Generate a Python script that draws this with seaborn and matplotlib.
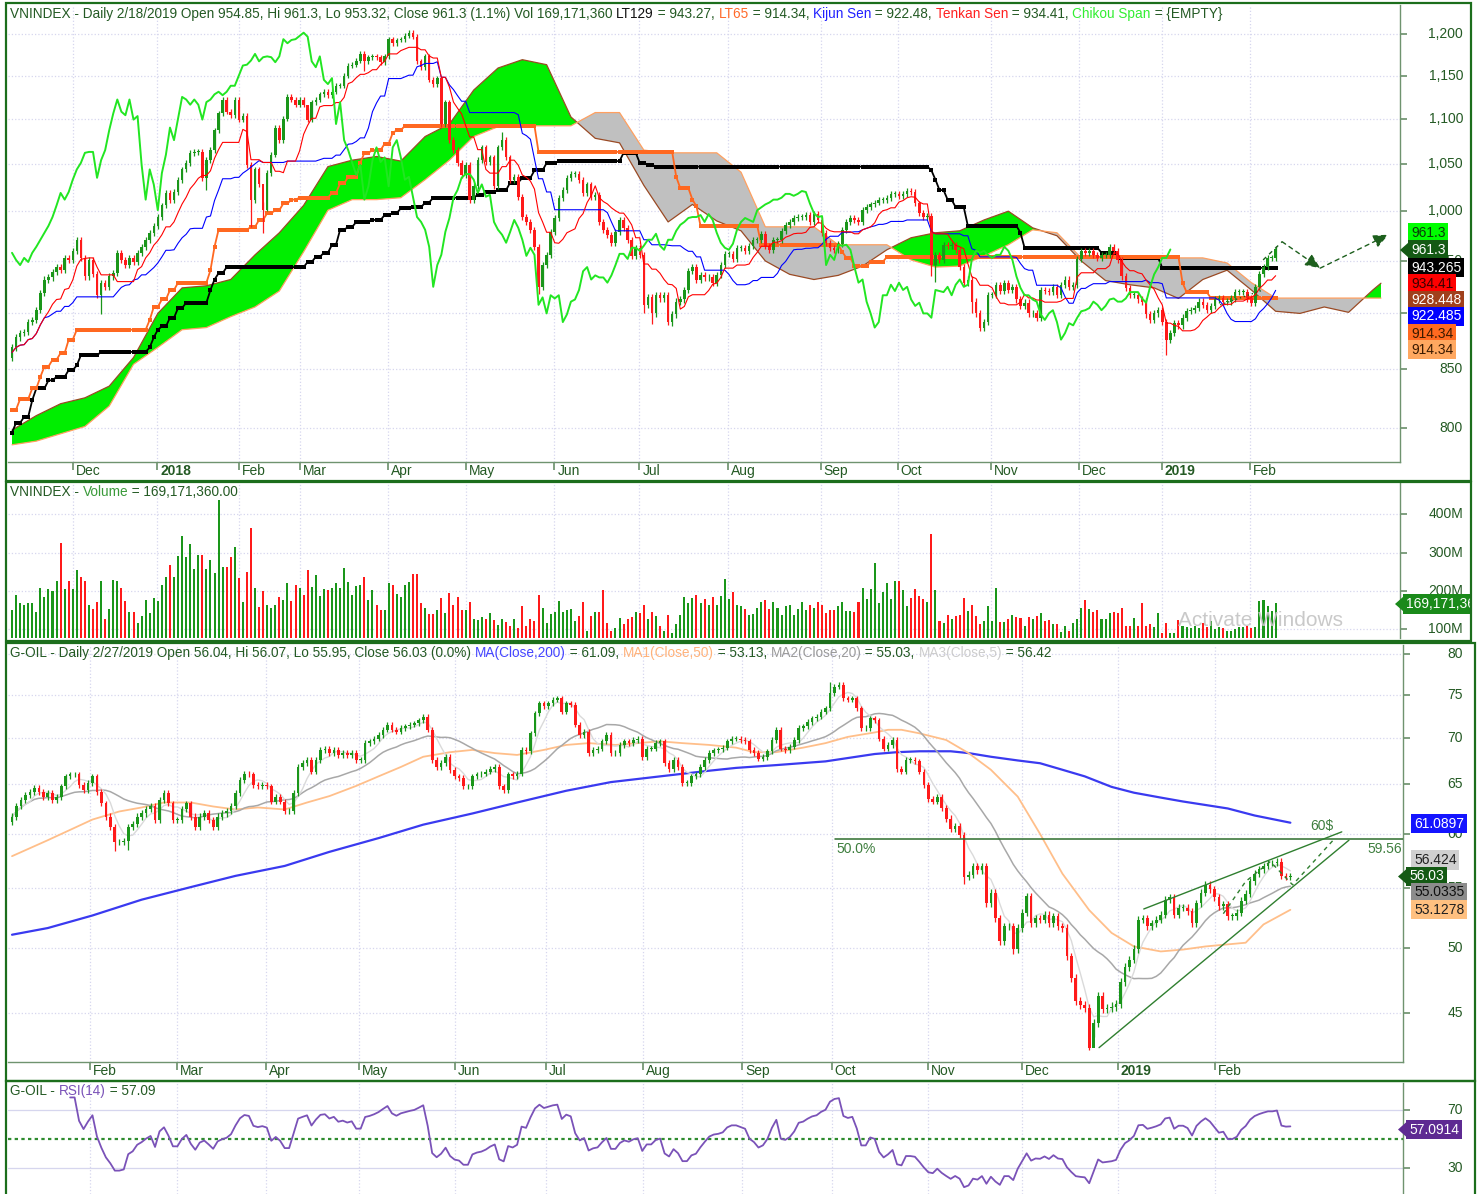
import numpy as np
import pandas as pd
import seaborn as sns
import matplotlib
matplotlib.use("Agg")
import matplotlib.pyplot as plt
import matplotlib.transforms as mtransforms
from matplotlib.patches import Rectangle, Polygon
from matplotlib.ticker import FixedLocator, NullLocator

# -----------------------------------------------------------------------------
# DATA - VNINDEX daily (Nov 2017 .. 2/18/2019)
# -----------------------------------------------------------------------------
vn_close = [
    869, 878, 882, 883, 892, 894, 903, 919, 932, 934,
    939, 944, 941, 953, 951, 960, 971, 953, 935, 951,
    937, 917, 929, 925, 935, 938, 958, 951, 946, 953,
    949, 958, 964, 971, 978, 985, 994, 1006, 1019, 1012,
    1020, 1033, 1044, 1051, 1062, 1063, 1063, 1035, 1054, 1065,
    1087, 1106, 1122, 1108, 1104, 1122, 1099, 1103, 1049, 1012,
    1044, 1028, 1001, 1040, 1060, 1090, 1076, 1100, 1125, 1122,
    1116, 1122, 1116, 1099, 1119, 1122, 1128, 1131, 1127, 1131,
    1138, 1138, 1150, 1162, 1163, 1168, 1176, 1167, 1172, 1173,
    1172, 1166, 1173, 1194, 1189, 1193, 1194, 1198, 1202, 1197,
    1167, 1160, 1173, 1145, 1140, 1147, 1094, 1119, 1076, 1065,
    1051, 1038, 1049, 1012, 1026, 1054, 1068, 1052, 1057, 1026,
    1068, 1076, 1057, 1033, 1036, 1015, 994, 989, 981, 964,
    925, 946, 956, 979, 993, 1014, 1022, 1035, 1039, 1039,
    1033, 1019, 1028, 1015, 1017, 989, 981, 976, 968, 979,
    991, 983, 971, 955, 963, 956, 908, 915, 900, 917,
    914, 917, 892, 899, 911, 913, 922, 940, 944, 932,
    936, 934, 934, 929, 936, 946, 957, 957, 952, 963,
    963, 960, 965, 971, 971, 977, 965, 961, 971, 971,
    980, 986, 989, 993, 994, 994, 996, 989, 997, 991,
    978, 968, 963, 961, 967, 981, 989, 993, 991, 989,
    1001, 1004, 1007, 1009, 1012, 1012, 1014, 1018, 1018, 1016,
    1018, 1021, 1020, 1008, 998, 994, 995, 946, 956, 951,
    966, 965, 966, 961, 944, 929, 932, 911, 900, 887,
    892, 917, 917, 927, 921, 929, 922, 925, 913, 907,
    910, 900, 900, 896, 922, 921, 920, 925, 917, 927,
    932, 925, 927, 952, 960, 958, 960, 956, 953, 956,
    956, 964, 960, 951, 935, 924, 917, 917, 913, 911,
    899, 894, 900, 903, 892, 876, 882, 891, 889, 896,
    902, 903, 905, 911, 908, 903, 907, 913, 914, 911,
    911, 914, 920, 920, 920, 914, 910, 925, 937, 944,
    953, 953, 961.3,
]
vn_first_open = 860          # opens are taken as the previous close
vn_wick = 3                  # typical shadow length, points
vn_long_wicks = {22: (None, 899), 48: (None, 1022), 59: (None, 984), 62: (1010, 978),
                 63: (None, 1000), 73: (1112, None), 87: (None, 1155), 121: (1085, None),
                 130: (None, 918), 156: (None, 900), 158: (None, 890), 163: (None, 888),
                 227: (None, 935), 228: (None, 930), 237: (None, 900), 285: (None, 862)}

# volume in millions of shares
vn_volume = [
    152, 189, 170, 165, 170, 168, 146, 209, 184, 206, 200, 226, 326, 206, 226, 206, 255, 237, 226, 163,
    154, 171, 226, 126, 154, 230, 226, 209, 174, 145, 145, 117, 135, 178, 143, 181, 174, 215, 237, 269,
    237, 291, 344, 289, 324, 258, 294, 293, 257, 282, 246, 438, 263, 263, 289, 315, 235, 171, 250, 365,
    209, 159, 200, 163, 157, 163, 185, 178, 222, 174, 215, 209, 189, 255, 211, 241, 187, 206, 203, 209,
    222, 209, 261, 224, 189, 213, 217, 237, 178, 203, 165, 152, 152, 220, 215, 193, 185, 217, 224, 245,
    245, 170, 157, 141, 141, 152, 183, 143, 194, 165, 185, 152, 152, 171, 126, 124, 132, 126, 143, 124,
    111, 126, 119, 109, 126, 103, 161, 109, 126, 122, 191, 157, 117, 139, 145, 174, 145, 152, 154, 122,
    135, 171, 96, 135, 145, 145, 204, 117, 96, 104, 130, 113, 126, 132, 145, 143, 163, 128, 145, 135,
    109, 96, 137, 91, 113, 137, 185, 168, 183, 191, 170, 180, 163, 185, 163, 187, 232, 180, 197, 165,
    160, 154, 137, 141, 157, 171, 177, 154, 171, 157, 137, 161, 165, 137, 154, 171, 152, 163, 157, 171,
    163, 143, 152, 152, 161, 171, 148, 148, 145, 171, 209, 180, 206, 274, 168, 197, 220, 180, 226, 226,
    203, 161, 183, 206, 187, 180, 171, 348, 203, 122, 116, 137, 126, 135, 137, 183, 148, 163, 135, 113,
    122, 161, 123, 209, 119, 119, 126, 137, 133, 130, 109, 132, 128, 135, 143, 122, 124, 115, 113, 93,
    109, 97, 117, 128, 157, 178, 154, 145, 152, 128, 126, 143, 145, 143, 157, 110, 109, 130, 109, 170,
    109, 113, 107, 143, 91, 117, 91, 91, 124, 109, 106, 104, 109, 104, 117, 106, 122, 100, 107, 104,
    96, 96, 102, 107, 107, 110, 104, 107, 174, 178, 161, 148, 169.17,
]

# Ichimoku cloud edges (already shifted 26 bars ahead), sampled from the chart
cloud_idx = list(range(0, 337, 6)) + [338]
senkou_a = [798, 810, 820, 825, 835, 860, 900, 924, 926, 932, 956, 978, 1006, 1047, 1054, 1058,
            1053, 1080, 1094, 1133, 1159, 1169, 1163, 1102, 1078, 1073, 1027, 989, 1007, 990, 980,
            950, 937, 932, 936, 945, 961, 973, 978, 980, 991, 1000, 983, 975, 950, 931, 927, 924,
            914, 932, 941, 922, 902, 900, 906, 901, 922, 928.448]
senkou_b = [786, 789, 795, 801, 818, 854, 869, 885, 887, 897, 906, 921, 959, 1001, 1012, 1012,
            1014, 1033, 1054, 1080, 1091, 1092, 1092, 1092, 1107, 1107, 1065, 1062, 1062, 1062, 1041,
            984, 984, 984, 966, 966, 966, 951, 944, 945, 955, 966, 981, 978, 953, 953, 953, 953,
            953, 953, 948, 929, 914.34, 914.34, 914.34, 914.34, 914.34, 914.34]

# long-term midpoint lines as (level, number of bars)
lt129_runs = [(796, 1), (804, 2), (809, 2), (823, 1), (833, 3), (840, 2), (843, 3), (849, 2), (853, 1),
              (862, 5), (865, 12), (869, 1), (878, 1), (885, 1), (888, 2), (896, 2), (905, 2), (910, 6),
              (922, 1), (932, 1), (938, 2), (944, 20), (949, 2), (954, 2), (958, 2), (966, 2), (981, 2),
              (984, 2), (989, 4), (991, 3), (996, 2), (998, 2), (1003, 3), (1004, 3), (1009, 2),
              (1014, 11), (1017, 2), (1020, 3), (1022, 3), (1030, 3), (1035, 3), (1043, 3), (1051, 3),
              (1053, 16), (1062, 4), (1051, 2), (1049, 2), (1047, 68), (1043, 1), (1033, 1), (1022, 2),
              (1012, 2), (1004, 3), (985, 13), (978, 1), (963, 19), (958, 4), (953, 11), (943.27, 29)]
lt65_runs = [(815, 2), (824, 3), (833, 2), (843, 1), (852, 2), (858, 2), (864, 2), (876, 2), (885, 18),
             (894, 1), (906, 2), (913, 2), (922, 2), (929, 8), (941, 1), (964, 1), (981, 8), (984, 2),
             (991, 2), (998, 2), (1001, 2), (1008, 2), (1012, 2), (1014, 8), (1019, 2), (1029, 2),
             (1036, 3), (1051, 1), (1062, 2), (1065, 3), (1072, 2), (1084, 1), (1087, 2), (1092, 33),
             (1063, 34), (1036, 1), (1024, 3), (1012, 1), (1005, 1), (985, 15), (966, 20), (959, 1),
             (953, 2), (945, 4), (949, 4), (954, 73), (929, 1), (920, 6), (914.34, 17)]

vn_month_pos = [15.1, 35.9, 56.1, 71.1, 92.9, 112.1, 133.9, 154.9, 176.7, 199.7, 218.7, 241.7,
                263.5, 283.9, 305.7]
vn_month_lab = ["Dec", "2018", "Feb", "Mar", "Apr", "May", "Jun", "Jul", "Aug", "Sep", "Oct",
                "Nov", "Dec", "2019", "Feb"]
vn_price_ticks = [800, 850, 950, 1000, 1050, 1100, 1150, 1200]   # 900 sits under the tags
vn_vol_ticks = [100, 200, 300, 400]
# hand-drawn projection on the VNINDEX chart (bar index, price)
vn_projection = [(308.9, 951), (313.6, 969), (323.0, 943), (339.8, 976)]
vn_trend_dots = [(298.3, 908), (308.9, 922)]

# -----------------------------------------------------------------------------
# DATA - G-OIL daily (Jan 5 2018 .. 2/27/2019)
# -----------------------------------------------------------------------------
oil_close = [
    61.7, 62.7, 63.4, 63.9, 64.2, 64.6, 64.2, 63.7, 64.05, 63.4,
    63.7, 64.75, 65.8, 66.0, 66.0, 64.9, 64.4, 65.1, 65.8, 64.2,
    63.0, 61.7, 60.7, 59.2, 59.2, 59.3, 60.7, 61.0, 61.7, 62.0,
    62.4, 62.7, 61.4, 63.4, 64.05, 63.0, 61.4, 61.4, 62.4, 63.0,
    61.7, 60.7, 61.7, 62.0, 61.4, 60.7, 61.7, 62.0, 62.2, 62.7,
    64.05, 65.4, 66.1, 66.0, 64.9, 64.75, 64.9, 64.75, 63.2, 63.7,
    63.2, 62.2, 62.2, 64.05, 66.8, 67.2, 67.55, 66.3, 67.55, 68.65,
    68.8, 68.3, 68.65, 68.1, 68.3, 68.1, 68.3, 67.55, 67.55, 69.4,
    69.6, 69.9, 70.3, 70.9, 71.5, 70.9, 70.7, 71.1, 71.3, 71.5,
    71.65, 72.0, 72.4, 70.9, 67.55, 66.8, 67.2, 67.9, 66.5, 65.8,
    65.6, 64.75, 64.75, 65.8, 66.0, 66.1, 66.3, 66.6, 66.8, 64.75,
    64.4, 66.0, 65.8, 66.1, 68.65, 68.5, 70.5, 72.8, 74.0, 73.6,
    74.0, 74.4, 74.6, 73.0, 74.0, 73.8, 71.5, 70.3, 70.7, 68.3,
    68.65, 68.8, 69.6, 70.3, 68.3, 68.3, 69.2, 69.6, 69.4, 69.75,
    69.9, 67.9, 68.8, 68.8, 69.4, 69.6, 67.2, 66.6, 67.55, 66.8,
    65.1, 65.1, 65.8, 66.0, 66.8, 67.55, 68.3, 68.6, 68.7, 68.9,
    69.6, 69.9, 69.9, 69.75, 69.6, 68.65, 68.3, 67.7, 67.9, 68.5,
    69.75, 70.9, 68.8, 68.65, 69.0, 69.75, 71.1, 71.3, 71.8, 72.2,
    72.4, 73.0, 73.4, 75.2, 75.96, 76.2, 74.6, 74.4, 74.6, 73.4,
    71.1, 71.1, 72.2, 72.0, 69.9, 68.8, 69.2, 69.75, 66.6, 66.3,
    67.55, 67.55, 67.4, 66.3, 64.9, 63.5, 63.2, 63.7, 62.5, 61.5,
    60.5, 60.8, 59.9, 56.0, 56.2, 57.0, 56.6, 57.0, 53.7, 54.6,
    52.4, 50.5, 51.75, 51.75, 49.9, 51.6, 52.9, 54.3, 52.0, 52.4,
    52.3, 52.7, 52.0, 52.6, 51.75, 51.6, 49.3, 47.6, 45.9, 45.6,
    45.4, 42.6, 44.3, 46.3, 45.3, 45.4, 45.5, 45.7, 47.3, 48.5,
    49.06, 49.9, 52.3, 52.4, 51.75, 52.0, 52.3, 52.7, 54.0, 54.2,
    52.7, 53.3, 53.3, 53.0, 52.0, 53.7, 54.6, 55.3, 54.9, 54.2,
    53.45, 53.6, 52.6, 52.6, 52.9, 53.9, 54.5, 55.6, 56.3, 56.7,
    57.0, 57.25, 57.25, 57.4, 56.1, 56.0, 56.03,
]
oil_first_open = 61.2
oil_wick = 0.3
oil_long_wicks = {23: (None, 58.4), 26: (None, 58.5), 213: (None, 55.4), 224: (None, 49.5),
                  241: (None, 42.45), 242: (None, 43.3), 183: (76.5, None)}

oil_ma50_idx = [0, 8, 18, 24, 29, 34, 40, 45, 50, 55, 61, 66, 71, 77, 82, 87, 92, 98, 103, 108,
                113, 119, 124, 129, 135, 140, 145, 150, 156, 162, 166, 171, 177, 182, 187, 193, 196,
                199, 203, 209, 214, 219, 225, 230, 235, 241, 246, 251, 257, 262, 267, 273, 276, 280, 286]
oil_ma50 = [57.9, 59.4, 61.4, 62.2, 62.6, 63.1, 63.1, 62.7, 62.4, 62.6, 62.4, 63.1, 63.75, 64.8, 65.8,
            66.8, 67.9, 68.4, 68.65, 68.3, 68.1, 68.65, 69.2, 69.4, 69.2, 69.4, 69.6, 69.4, 69.2, 68.9,
            68.4, 68.4, 68.9, 69.4, 70.1, 70.6, 70.9, 70.9, 70.5, 69.75, 68.3, 66.5, 63.7, 60.0, 56.3,
            53.1, 51.2, 50.1, 49.7, 49.85, 50.1, 50.3, 50.4, 51.9, 53.13]
oil_ma200_idx = [0, 8, 18, 29, 40, 50, 61, 71, 82, 92, 103, 113, 124, 134, 145, 156, 162, 171, 182,
                 193, 198, 203, 210, 214, 219, 225, 230, 235, 240, 246, 251, 257, 262, 267, 272, 278, 286]
oil_ma200 = [51.05, 51.6, 52.65, 54.0, 55.1, 56.1, 57.0, 58.3, 59.6, 60.9, 62.0, 63.1, 64.3, 65.2,
             65.8, 66.4, 66.7, 67.0, 67.4, 68.2, 68.4, 68.5, 68.5, 68.3, 67.9, 67.5, 67.2, 66.5, 65.8,
             64.7, 64.1, 63.6, 63.2, 62.85, 62.5, 61.8, 61.09]

oil_month_pos = [17.4, 36.9, 56.9, 77.6, 99.1, 119.5, 141.2, 163.3, 183.4, 204.9, 225.9, 247.4, 269.1]
oil_month_lab = ["Feb", "Mar", "Apr", "May", "Jun", "Jul", "Aug", "Sep", "Oct", "Nov", "Dec",
                 "2019", "Feb"]
oil_price_ticks = [45, 50, 55, 60, 65, 70, 75, 80]
rsi_ticks = [30, 70]
# drawn wedge / target on the oil chart (bar index, price)
oil_fib_level = 59.56
oil_fib_start = 184.1
oil_wedge_upper = [(253.2, 53.2), (297.5, 60.2)]
oil_wedge_lower = [(243.2, 42.6), (299.1, 59.4)]
oil_dash_path = [(271.0, 52.8), (276.0, 55.6), (281.5, 57.4), (286.5, 55.3), (296.0, 59.6)]

# -----------------------------------------------------------------------------
# FIGURE
# -----------------------------------------------------------------------------
W, H = 1479, 1194
sns.set_theme(style="white")
plt.rcParams["font.family"] = ["Liberation Sans", "DejaVu Sans"]
plt.rcParams["font.size"] = 10

TXT = "#245a24"
GRID = "#d6d6ee"
AXC = "#6f936f"
FRAME = "#1c6e1c"
UP, DOWN = "#1a961a", "#ff1a1a"
FS = 10        # tick labels, tags, month names
FS_HEAD = 9.8  # panel titles

fig = plt.figure(figsize=(W / 100, H / 100), dpi=100)


def rect(x0, y0, x1, y1):
    return [x0 / W, 1 - y1 / H, (x1 - x0) / W, (y1 - y0) / H]


def fy(y_px):
    return 1 - y_px / H


def ohlc(close, first_open, wick, long_wicks):
    c = np.asarray(close, float)
    o = np.r_[first_open, c[:-1]]
    h = np.maximum(o, c) + wick
    l = np.minimum(o, c) - wick
    for i, (hi, lo) in long_wicks.items():
        if hi is not None:
            h[i] = hi
        if lo is not None:
            l[i] = lo
    return o, h, l, c


def candles(ax, o, h, l, c, width, min_body):
    x = np.arange(len(c))
    col = np.where(c >= o, UP, DOWN)
    ax.vlines(x, l, h, colors=col, lw=0.9, zorder=3)
    body = np.maximum(np.abs(c - o), min_body)
    ax.bar(x, body, bottom=np.minimum(o, c), width=width, color=col, linewidth=0, zorder=3)
    return col


def base_axes(box, xlim, ylim, log=False):
    ax = fig.add_axes(rect(*box))
    ax.set_facecolor("white")
    if log:
        ax.set_yscale("log")
    ax.set_xlim(*xlim)
    ax.set_ylim(*ylim)
    for s in ("left", "top"):
        ax.spines[s].set_visible(False)
    for s in ("right", "bottom"):
        ax.spines[s].set_color(AXC)
        ax.spines[s].set_linewidth(1.0)
    ax.yaxis.set_minor_locator(NullLocator())
    ax.xaxis.set_minor_locator(NullLocator())
    ax.tick_params(axis="y", which="both", left=False, right=True, labelleft=False,
                   labelright=False, direction="out", length=5, color=AXC)
    ax.tick_params(axis="x", which="both", bottom=True, top=False, labelbottom=False,
                   direction="out", length=6, color=AXC)
    return ax


def y_labels(ax, ticks, fmt, grid_ticks=None, x_px=1463):
    ax.yaxis.set_major_locator(FixedLocator(grid_ticks or ticks))
    tr = mtransforms.blended_transform_factory(fig.transFigure, ax.transData)
    for v in ticks:
        ax.text(x_px / W, v, fmt(v), transform=tr, ha="right", va="center", fontsize=FS,
                color=TXT, zorder=5)


def x_months(ax, pos, labels, y_px=None):
    ax.xaxis.set_major_locator(FixedLocator(pos))
    ax.grid(True, which="major", color=GRID, ls=":", lw=0.9)
    if y_px is None:
        ax.tick_params(axis="x", length=0)
        return
    tr = mtransforms.blended_transform_factory(ax.transData, fig.transFigure)
    tr = tr + mtransforms.ScaledTranslation(3 / 100, 0, fig.dpi_scale_trans)
    for p, lab in zip(pos, labels):
        ax.text(p, fy(y_px), lab, transform=tr, ha="left", va="center", fontsize=FS,
                color=TXT, fontweight="bold" if lab.isdigit() else "normal")


def header(ax, x_px, y_px, parts):
    # pieces are chained one after another; drawn by the panel's own axes so
    # that the next panel's background does not hide them
    t = ax.text(x_px / W, fy(y_px), parts[0][0], color=parts[0][1], fontsize=FS_HEAD,
                ha="left", va="center", transform=fig.transFigure, zorder=6)
    for s, col in parts[1:]:
        t = ax.annotate(s, xy=(1, 0), xycoords=t, va="bottom", ha="left",
                        color=col, fontsize=FS_HEAD, annotation_clip=False, zorder=6)


def tag(x_px, y_px, text, fc, tc, arrow=False, clip_right=None):
    t = fig.text((x_px + 3) / W, fy(y_px), text, ha="left", va="center", fontsize=FS, color=tc,
                 bbox=dict(boxstyle="square,pad=0.2", fc=fc, ec="none"), zorder=20)
    if clip_right is not None:
        clip = mtransforms.TransformedBbox(
            mtransforms.Bbox.from_extents(x_px / W - 0.01, 0, clip_right / W, 1), fig.transFigure)
        t.set_clip_box(clip)
        t.set_clip_on(True)
    if arrow:
        fig.add_artist(Polygon([[(x_px - 8) / W, fy(y_px)], [(x_px + 0.5) / W, fy(y_px - 7.5)],
                                [(x_px + 0.5) / W, fy(y_px + 7.5)]], closed=True,
                               transform=fig.transFigure, fc=fc, ec="none", zorder=20))


# ---------------------------------------------------------------- panel 1
vn_o, vn_h, vn_l, vn_c = ohlc(vn_close, vn_first_open, vn_wick, vn_long_wicks)
n_vn = len(vn_c)
ax1 = base_axes((8, 5, 1400, 462), (-0.99, 342.7), (772.2, 1236.8), log=True)
y_labels(ax1, vn_price_ticks, lambda v: f"{v:,}",
         grid_ticks=[800, 850, 900, 950, 1000, 1050, 1100, 1150, 1200])
x_months(ax1, vn_month_pos, vn_month_lab, y_px=471)

ca = np.array(senkou_a, float)
cb = np.array(senkou_b, float)
ax1.fill_between(cloud_idx, ca, cb, where=ca >= cb, interpolate=True, color="#00ee00",
                 linewidth=0, zorder=1)
ax1.fill_between(cloud_idx, ca, cb, where=ca < cb, interpolate=True, color="#c0c0c0",
                 linewidth=0, zorder=1)
sns.lineplot(x=cloud_idx, y=ca, ax=ax1, color="#9a4a24", lw=0.9, zorder=2)
sns.lineplot(x=cloud_idx, y=cb, ax=ax1, color="#ffa060", lw=0.9, zorder=2)

lt129 = np.repeat([v for v, k in lt129_runs], [k for v, k in lt129_runs])
lt65 = np.repeat([v for v, k in lt65_runs], [k for v, k in lt65_runs])
idx_vn = np.arange(n_vn)
sns.lineplot(x=idx_vn, y=lt129, ax=ax1, color="black", lw=1.3, marker="s", markersize=2.6,
             markeredgewidth=0, zorder=2.5)
sns.lineplot(x=idx_vn, y=lt65, ax=ax1, color="#ff6820", lw=1.3, marker="s", markersize=2.6,
             markeredgewidth=0, zorder=2.5)

vn_colors = candles(ax1, vn_o, vn_h, vn_l, vn_c, 0.62, 0.8)

hs, ls_ = pd.Series(vn_h), pd.Series(vn_l)
tenkan = (hs.rolling(9, min_periods=1).max() + ls_.rolling(9, min_periods=1).min()) / 2
kijun = (hs.rolling(26, min_periods=1).max() + ls_.rolling(26, min_periods=1).min()) / 2
sns.lineplot(x=idx_vn, y=kijun.values, ax=ax1, color="#0000ff", lw=0.8, zorder=4)
sns.lineplot(x=idx_vn, y=tenkan.values, ax=ax1, color="#ff0000", lw=0.8, zorder=4)
sns.lineplot(x=idx_vn[26:] - 26, y=vn_c[26:], ax=ax1, color="#22e622", lw=1.4, zorder=4)

px, py = zip(*vn_projection)
ax1.plot(px[:2], py[:2], color="#1d5f1d", lw=1.0, ls=(0, (3, 3)), zorder=5)
for a, b in ((1, 2), (2, 3)):
    ax1.annotate("", xy=(px[b], py[b]), xytext=(px[a], py[a]),
                 arrowprops=dict(arrowstyle="-|>,head_length=0.9,head_width=0.4",
                                 color="#1d5f1d", lw=1.0, ls=(0, (3, 3)), shrinkA=0, shrinkB=0))
tx, ty = zip(*vn_trend_dots)
ax1.plot(tx, ty, color="#1d5f1d", lw=1.0, ls=(0, (1, 2)), zorder=5)

# ---------------------------------------------------------------- panel 2
ax2 = base_axes((8, 483, 1400, 637.5), (-0.99, 342.7), (79, 482))
y_labels(ax2, vn_vol_ticks, lambda v: f"{v}M")
x_months(ax2, vn_month_pos, vn_month_lab)
ax2.grid(True, axis="y", color=GRID, ls=":", lw=0.9)
ax2.bar(idx_vn, vn_volume, width=0.5, color=vn_colors, linewidth=0, zorder=3)
ax2.spines["bottom"].set_visible(False)
ax2.text(1178 / W, fy(621), "Activate Windows", transform=fig.transFigure, fontsize=15,
         color="#c4c4c4", alpha=0.9, ha="left", va="center", zorder=6)

# ---------------------------------------------------------------- panel 3
oil_o, oil_h, oil_l, oil_c = ohlc(oil_close, oil_first_open, oil_wick, oil_long_wicks)
n_oil = len(oil_c)
idx_oil = np.arange(n_oil)
ax3 = base_axes((8, 645, 1403, 1062), (-0.9, 311.2), (41.63, 81.22), log=True)
y_labels(ax3, oil_price_ticks, lambda v: f"{v}")
x_months(ax3, oil_month_pos, oil_month_lab, y_px=1071)

cs = pd.Series(oil_c)
ma5 = cs.rolling(5, min_periods=1).mean()
ma20 = cs.rolling(20, min_periods=1).mean()
sns.lineplot(x=oil_ma200_idx, y=oil_ma200, ax=ax3, color="#3a3af0", lw=1.6, zorder=2)
sns.lineplot(x=oil_ma50_idx, y=oil_ma50, ax=ax3, color="#ffbf8a", lw=1.3, zorder=2)
sns.lineplot(x=idx_oil, y=ma20.values, ax=ax3, color="#a8a8a8", lw=1.1, zorder=2)
sns.lineplot(x=idx_oil, y=ma5.values, ax=ax3, color="#dadada", lw=1.0, zorder=2)
candles(ax3, oil_o, oil_h, oil_l, oil_c, 0.6, 0.06)

LC = "#2f7f2f"
ax3.plot([oil_fib_start, 311.2], [oil_fib_level, oil_fib_level], color="#2d6d2d", lw=1.1, zorder=5)
ax3.text(oil_fib_start + 0.3, oil_fib_level * 0.995, "50.0%", color="#3e7e3e", fontsize=FS,
         ha="left", va="top", zorder=5)
ax3.text(311.0, oil_fib_level * 0.995, "59.56", color="#3e7e3e", fontsize=FS, ha="right",
         va="top", zorder=5)
for seg in (oil_wedge_upper, oil_wedge_lower):
    sx, sy = zip(*seg)
    ax3.plot(sx, sy, color=LC, lw=1.0, zorder=5)
dx, dy = zip(*oil_dash_path)
ax3.plot(dx, dy, color=LC, lw=1.0, ls=(0, (3, 3)), zorder=5)
ax3.text(290.4, 60.05, "60$", color="#3e7e3e", fontsize=FS, ha="left", va="bottom", zorder=5)

# ---------------------------------------------------------------- panel 4
delta = cs.diff().fillna(0)
gain = delta.clip(lower=0).ewm(alpha=1 / 14, adjust=False, min_periods=14).mean()
loss = (-delta).clip(lower=0).ewm(alpha=1 / 14, adjust=False, min_periods=14).mean()
rsi = 100 - 100 / (1 + gain / loss)
ax4 = base_axes((8, 1083, 1403, 1194), (-0.9, 311.2), (12.0, 88.9))
y_labels(ax4, rsi_ticks, lambda v: f"{v}")
x_months(ax4, oil_month_pos, oil_month_lab)
ax4.grid(True, axis="y", color=GRID, ls="-", lw=0.9)
ax4.spines["bottom"].set_visible(False)
ax4.axhline(50, color="#2e8b2e", lw=1.6, ls=(0, (1.5, 1.5)), zorder=2)
sns.lineplot(x=idx_oil, y=rsi.values, ax=ax4, color="#7a52b8", lw=1.3, zorder=3)

# ---------------------------------------------------------------- frames
for x0, y0, x1, y1 in ((6, 3, 1471, 481), (6, 482, 1471, 641), (6, 643, 1475, 1081),
                       (6, 1081, 1475, 1200)):
    fig.add_artist(Rectangle((x0 / W, fy(y1)), (x1 - x0) / W, (y1 - y0) / H, fill=False,
                             ec=FRAME, lw=1.6, transform=fig.transFigure, zorder=30))

# ---------------------------------------------------------------- headers
header(ax1, 10, 14, [
    ("VNINDEX - Daily 2/18/2019 Open 954.85, Hi 961.3, Lo 953.32, Close 961.3 (1.1%) "
     "Vol 169,171,360 ", TXT),
    ("LT129", "#111111"), (" = 943.27, ", TXT), ("LT65", "#ff6a2a"), (" = 914.34, ", TXT),
    ("Kijun Sen", "#2020ff"), (" = 922.48, ", TXT), ("Tenkan Sen", "#ff2020"),
    (" = 934.41, ", TXT), ("Chikou Span", "#33ee33"), (" = {EMPTY}", TXT)])
header(ax2, 10, 492, [("VNINDEX - ", TXT), ("Volume", "#3a9a3a"), (" = 169,171,360.00", TXT)])
header(ax3, 10, 653, [
    ("G-OIL - Daily 2/27/2019 Open 56.04, Hi 56.07, Lo 55.95, Close 56.03 (0.0%) ", TXT),
    ("MA(Close,200)", "#4444ff"), (" = 61.09, ", TXT), ("MA1(Close,50)", "#ffb27a"),
    (" = 53.13, ", TXT), ("MA2(Close,20)", "#9a9a9a"), (" = 55.03, ", TXT),
    ("MA3(Close,5)", "#cccccc"), (" = 56.42", TXT)])
header(ax4, 10, 1091, [("G-OIL - ", TXT), ("RSI(14)", "#7a52b8"), (" = 57.09", TXT)])

# ---------------------------------------------------------------- value tags
tag(1408, 233, "961.3", "#00ff00", "#0a3a0a")
tag(1408, 250, "961.3", "#145a14", "white", arrow=True)
tag(1408, 267.5, "943.265", "#000000", "white")
tag(1408, 284, "934.41", "#ff0000", "#3a0000")
tag(1408, 300.5, "928.448", "#a0401c", "white")
tag(1408, 316.5, "922.485", "#0000ff", "white")
tag(1408, 333.5, "914.34", "#ff6a20", "#3a1a00")
tag(1408, 349.5, "914.34", "#ffa860", "#3a1a00")
tag(1403, 604, "169,171,360", "#1a8a1a", "white", arrow=True, clip_right=1470)
tag(1411, 823.5, "61.0897", "#1414ff", "white")
tag(1411, 860, "56.424", "#d0d0d0", "#202020")
tag(1406, 876.5, "56.03", "#145a14", "white", arrow=True)
tag(1411, 892.5, "55.0335", "#8c8c8c", "#101010")
tag(1411, 909.5, "53.1278", "#ffc080", "#202020")
tag(1406, 1129.5, "57.0914", "#5e2a92", "white", arrow=True)

fig.savefig("out.png", dpi=100)
